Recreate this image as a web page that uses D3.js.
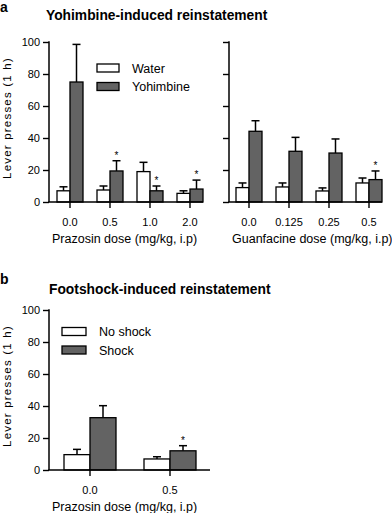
<!DOCTYPE html>
<html><head><meta charset="utf-8">
<script src="https://cdn.jsdelivr.net/npm/d3@7"></script>
<style>
body{margin:0;background:#fff;}
svg{display:block;font-family:"Liberation Sans",Arial,Helvetica,sans-serif;}
</style></head>
<body><div id="chart"></div>
<script>
// ---- data ----
const prazosinDoses = ["0.0", "0.5", "1.0", "2.0"];
const waterMean = [7, 7.5, 19, 5.4];
const waterSem = [2.5, 2.5, 5.8, 1.6];
const yohMean = [75, 19.4, 7, 8.1];
const yohSem = [23.5, 6.4, 3, 5.6];
const yohStar = [false, true, true, true];

const guanfacineDoses = ["0.0", "0.125", "0.25", "0.5"];
const gWaterMean = [9, 9.4, 6.9, 11.9];
const gWaterSem = [2.9, 2.5, 1.9, 3.1];
const gYohMean = [44.2, 31.7, 30.6, 14];
const gYohSem = [6.6, 8.7, 8.8, 5.4];
const gYohStar = [false, false, false, true];

const shockDoses = ["0.0", "0.5"];
const noShockMean = [9.6, 6.9];
const noShockSem = [3.3, 1.4];
const shockMean = [32.7, 12];
const shockSem = [7.5, 3.2];
const shockStar = [false, true];

const yTicks = [0, 20, 40, 60, 80, 100];

const W = 392, H = 513;
const DARK = "#636363";
const svg = d3.select("#chart").append("svg").attr("width", W).attr("height", H);

function panel(opts) {
  const g = svg.append("g");
  const y = d3.scaleLinear().domain([0, 100]).range([opts.y0, opts.y0 - 160]);
  const x = d3.scaleBand().domain(opts.cats).range(opts.xRange).padding(0);
  const cx = d => x(d) + x.bandwidth() / 2;
  const bw = opts.barW;

  // y axis
  const yAxis = d3.axisLeft(y).tickValues(yTicks).tickSize(6).tickPadding(3)
    .tickFormat(opts.yLabels ? d3.format("d") : "");
  const ya = g.append("g").attr("transform", `translate(${opts.axisX},0)`).call(yAxis);
  ya.select(".domain").remove();
  ya.selectAll(".tick line").attr("stroke", "#000").attr("stroke-width", 1.4);
  ya.selectAll(".tick text").attr("font-size", 11).attr("fill", "#000")
    .attr("font-family", "Liberation Sans, Arial, sans-serif");
  g.append("line").attr("x1", opts.axisX).attr("x2", opts.axisX)
    .attr("y1", y(100) - 0.7).attr("y2", y(0)).attr("stroke", "#000").attr("stroke-width", 1.5);

  // x axis
  const xAxis = d3.axisBottom(x).tickSize(6).tickPadding(10);
  const xa = g.append("g").attr("transform", `translate(0,${opts.y0})`).call(xAxis);
  xa.select(".domain").remove();
  xa.selectAll(".tick line").attr("stroke", "#000").attr("stroke-width", 1.4);
  xa.selectAll(".tick text").attr("font-size", 11).attr("fill", "#000")
    .attr("font-family", "Liberation Sans, Arial, sans-serif");

  // bars
  const series = [
    {mean: opts.m1, sem: opts.s1, fill: "#fff", off: -bw, star: null},
    {mean: opts.m2, sem: opts.s2, fill: DARK, off: 0, star: opts.star}
  ];
  series.forEach(s => {
    const gg = g.append("g");
    opts.cats.forEach((c, i) => {
      const x0 = cx(c) + s.off;
      const bc = x0 + bw / 2;
      gg.append("line").attr("x1", bc).attr("x2", bc)
        .attr("y1", y(s.mean[i])).attr("y2", y(s.mean[i] + s.sem[i]))
        .attr("stroke", "#000").attr("stroke-width", 1.5);
      gg.append("line").attr("x1", bc - 4).attr("x2", bc + 4)
        .attr("y1", y(s.mean[i] + s.sem[i])).attr("y2", y(s.mean[i] + s.sem[i]))
        .attr("stroke", "#000").attr("stroke-width", 1.5);
      gg.append("rect").attr("x", x0).attr("y", y(s.mean[i]))
        .attr("width", bw).attr("height", y(0) - y(s.mean[i]))
        .attr("fill", s.fill).attr("stroke", "#000").attr("stroke-width", 1.3);
      if (s.star && s.star[i]) {
        gg.append("text").attr("x", bc).attr("y", y(s.mean[i] + s.sem[i]) - 2)
          .attr("text-anchor", "middle").attr("font-size", 10).text("*");
      }
    });
  });

  g.append("line").attr("x1", opts.axisX - 0.7).attr("x2", opts.xEnd)
    .attr("y1", y(0)).attr("y2", y(0)).attr("stroke", "#000").attr("stroke-width", 1.5);

  // x title
  g.append("text").attr("x", opts.titleX).attr("y", opts.y0 + 41)
    .attr("font-size", 12.5).attr("fill", "#000").text(opts.xTitle);

  // y title
  if (opts.yLabels) {
    g.append("text").attr("transform", `translate(11,${opts.y0 - 84}) rotate(-90)`)
      .attr("text-anchor", "middle").attr("font-size", 11.5).attr("letter-spacing", 1.2)
      .attr("fill", "#000").text("Lever presses (1 h)");
  }

  // legend
  if (opts.legend) {
    opts.legend.forEach((L, i) => {
      const ly = opts.legY + i * 18.5;
      g.append("rect").attr("x", opts.legX).attr("y", ly - 4)
        .attr("width", opts.legW).attr("height", 8)
        .attr("fill", i === 0 ? "#fff" : DARK).attr("stroke", "#000").attr("stroke-width", 1.3);
      g.append("text").attr("x", opts.legX + opts.legW + 13).attr("y", ly + 4.5)
        .attr("font-size", 12.5).attr("fill", "#000").text(L);
    });
  }
}

panel({cats: prazosinDoses, xRange: [50, 210], axisX: 49, xEnd: 203, y0: 202, barW: 13,
  m1: waterMean, s1: waterSem, m2: yohMean, s2: yohSem, star: yohStar,
  yLabels: true, xTitle: "Prazosin dose (mg/kg, i.p)", titleX: 52,
  legend: ["Water", "Yohimbine"], legX: 97, legW: 22, legY: 68});

panel({cats: guanfacineDoses, xRange: [229, 389], axisX: 229, xEnd: 382, y0: 202, barW: 13,
  m1: gWaterMean, s1: gWaterSem, m2: gYohMean, s2: gYohSem, star: gYohStar,
  yLabels: false, xTitle: "Guanfacine dose (mg/kg, i.p)", titleX: 232});

panel({cats: shockDoses, xRange: [50, 210], axisX: 49, xEnd: 210, y0: 470, barW: 26,
  m1: noShockMean, s1: noShockSem, m2: shockMean, s2: shockSem, star: shockStar,
  yLabels: true, xTitle: "Prazosin dose (mg/kg, i.p)", titleX: 52,
  legend: ["No shock", "Shock"], legX: 62, legW: 24, legY: 331.5});

// panel titles and letters
svg.append("text").attr("x", 0).attr("y", 12).attr("font-size", 14).attr("font-weight", "bold").text("a");
svg.append("text").attr("x", 0).attr("y", 284).attr("font-size", 14).attr("font-weight", "bold").text("b");
svg.append("text").attr("x", 46).attr("y", 20).attr("font-size", 13.8).attr("font-weight", "bold")
  .text("Yohimbine-induced reinstatement");
svg.append("text").attr("x", 49).attr("y", 294).attr("font-size", 13.8).attr("font-weight", "bold")
  .text("Footshock-induced reinstatement");
</script>
</body></html>
